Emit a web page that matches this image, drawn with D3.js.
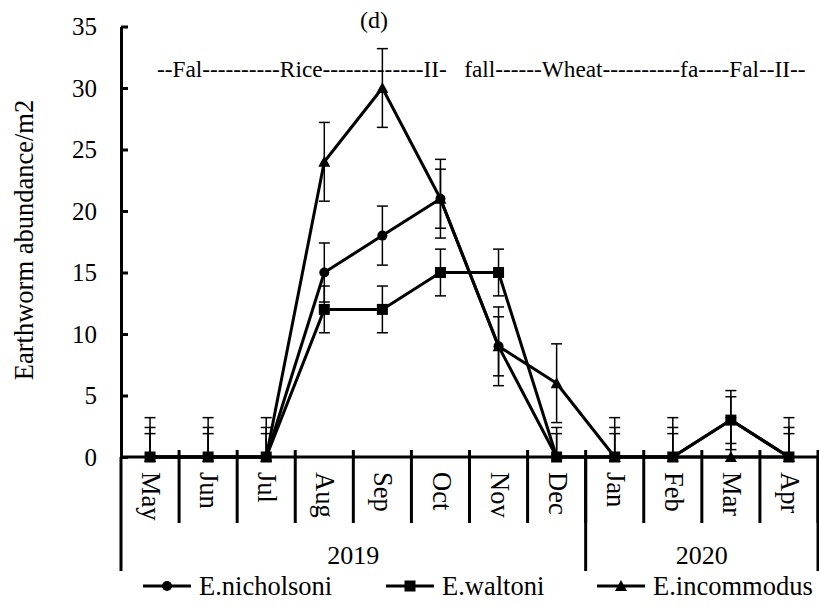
<!DOCTYPE html>
<html>
<head>
<meta charset="utf-8">
<script src="https://cdn.jsdelivr.net/npm/d3@7"></script>
<style>
  body { margin: 0; background: #fff; }
  svg text { font-family: 'Liberation Serif', 'Times New Roman', 'DejaVu Serif', serif; }
</style>
</head>
<body>
<div id="chart"></div>
<script>
// Data
const months = ["May", "Jun", "Jul", "Aug", "Sep", "Oct", "Nov", "Dec", "Jan", "Feb", "Mar", "Apr"];
const yearLabels = ["2019", "2020"];
const yearMonthCounts = [8, 4];
const yTicks = [0, 5, 10, 15, 20, 25, 30, 35];

const nicholsoni = [0, 0, 0, 15, 18, 21, 9, 0, 0, 0, 3, 0];
const waltoni = [0, 0, 0, 12, 12, 15, 15, 0, 0, 0, 3, 0];
const incommodus = [0, 0, 0, 24, 30, 21, 9, 6, 0, 0, 0, 0];

const nicholsoniErr = [2.4, 2.4, 2.4, 2.4, 2.4, 2.4, 2.4, 2.4, 2.4, 2.4, 2.4, 2.4];
const waltoniErr = [1.9, 1.9, 1.9, 1.9, 1.9, 1.9, 1.9, 1.9, 1.9, 1.9, 1.9, 1.9];
const incommodusErr = [3.2, 3.2, 3.2, 3.2, 3.2, 3.2, 3.2, 3.2, 3.2, 3.2, 3.2, 3.2];

const seasonText = "--Fal----------Rice-------------II-   fall------Wheat----------fa----Fal--II--";

const series = [
    { name: "E.nicholsoni", values: nicholsoni, errs: nicholsoniErr, marker: "circle" },
    { name: "E.waltoni", values: waltoni, errs: waltoniErr, marker: "square" },
    { name: "E.incommodus", values: incommodus, errs: incommodusErr, marker: "triangle" }
];

const W = 819, H = 612;
const FONT = "Liberation Serif, Times New Roman, DejaVu Serif, serif";

const svg = d3.select("#chart").append("svg")
    .attr("width", W)
    .attr("height", H)
    .attr("font-family", FONT);

// Scales
const x = d3.scaleBand().domain(months).range([121, 818]).padding(0);
const y = d3.scaleLinear().domain([0, 35]).range([457, 26.5]);
const cx = m => x(m) + x.bandwidth() / 2;

// clip for error bars that go below zero
svg.append("clipPath").attr("id", "plotClip")
    .append("rect")
    .attr("x", 100).attr("y", 0)
    .attr("width", W - 100).attr("height", y(0));

// Y axis
const yAxis = svg.append("g")
    .attr("transform", `translate(${x.range()[0]},0)`)
    .call(d3.axisLeft(y).tickValues(yTicks).tickSize(-7).tickSizeOuter(0).tickPadding(24));
yAxis.attr("font-family", FONT).attr("font-size", 25);
yAxis.select(".domain").attr("stroke", "#000").attr("stroke-width", 3);
yAxis.selectAll(".tick line").attr("stroke", "#000").attr("stroke-width", 3);
yAxis.selectAll(".tick text")
    .attr("font-family", FONT)
    .attr("font-size", 25)
    .attr("fill", "#000");

svg.append("text")
    .attr("transform", `translate(33,240) rotate(-90)`)
    .attr("text-anchor", "middle")
    .attr("font-size", 26.5)
    .text("Earthworm abundance/m2");

// X axis (multi-level category axis)
const xAxis = svg.append("g");
xAxis.append("line")
    .attr("x1", x.range()[0]).attr("x2", x.range()[1])
    .attr("y1", y(0)).attr("y2", y(0))
    .attr("stroke", "#000").attr("stroke-width", 3);

const boundaries = months.map(m => x(m)).concat([x.range()[1]]);
xAxis.selectAll(".mtick")
    .data(boundaries.slice(1))
    .enter().append("line")
    .attr("x1", d => d).attr("x2", d => d)
    .attr("y1", y(0) - 7).attr("y2", 523)
    .attr("stroke", "#000").attr("stroke-width", 3);

// year separators
let idx = 0;
const yearEdges = [0];
yearMonthCounts.forEach(c => { idx += c; yearEdges.push(idx); });
const edgeX = i => i < months.length ? x(months[i]) : x.range()[1];
xAxis.selectAll(".ytick")
    .data(yearEdges)
    .enter().append("line")
    .attr("x1", edgeX).attr("x2", edgeX)
    .attr("y1", y(0)).attr("y2", 571)
    .attr("stroke", "#000").attr("stroke-width", 3);

xAxis.selectAll(".mlabel")
    .data(months)
    .enter().append("text")
    .attr("transform", d => `translate(${cx(d)},472) rotate(90)`)
    .attr("text-anchor", "start")
    .attr("dy", "0.3em")
    .attr("font-size", 26.5)
    .text(d => d);

xAxis.selectAll(".ylabel")
    .data(yearLabels)
    .enter().append("text")
    .attr("x", (d, i) => (edgeX(yearEdges[i]) + edgeX(yearEdges[i + 1])) / 2)
    .attr("y", 564)
    .attr("text-anchor", "middle")
    .attr("font-size", 26)
    .text(d => d);

// Annotations
svg.append("text")
    .attr("x", 374).attr("y", 28)
    .attr("text-anchor", "middle")
    .attr("font-size", 24)
    .text("(d)");

svg.append("text")
    .attr("x", 157).attr("y", 77)
    .attr("font-size", 23.3)
    .style("white-space", "pre")
    .text(seasonText);

// Error bars
const plot = svg.append("g");
const errG = plot.append("g").attr("clip-path", "url(#plotClip)");
series.forEach(s => {
    const pts = months.map((m, i) => ({ m, v: s.values[i], e: s.errs[i] }));
    const g = errG.append("g");
    g.selectAll(".ev").data(pts).enter().append("line")
        .attr("x1", d => cx(d.m)).attr("x2", d => cx(d.m))
        .attr("y1", d => y(d.v + d.e)).attr("y2", d => y(d.v - d.e))
        .attr("stroke", "#000").attr("stroke-width", 1.5);
    g.selectAll(".ct").data(pts).enter().append("line")
        .attr("x1", d => cx(d.m) - 5.5).attr("x2", d => cx(d.m) + 5.5)
        .attr("y1", d => y(d.v + d.e)).attr("y2", d => y(d.v + d.e))
        .attr("stroke", "#000").attr("stroke-width", 1.5);
    g.selectAll(".cb").data(pts).enter().append("line")
        .attr("x1", d => cx(d.m) - 5.5).attr("x2", d => cx(d.m) + 5.5)
        .attr("y1", d => y(d.v - d.e)).attr("y2", d => y(d.v - d.e))
        .attr("stroke", "#000").attr("stroke-width", 1.5);
});

// Markers
function drawMarker(g, type, px, py) {
    if (type === "circle") {
        g.append("circle").attr("cx", px).attr("cy", py).attr("r", 5).attr("fill", "#000");
    } else if (type === "square") {
        g.append("rect").attr("x", px - 5.5).attr("y", py - 5.5).attr("width", 11).attr("height", 11).attr("fill", "#000");
    } else {
        g.append("path")
            .attr("d", `M${px},${py - 6} L${px + 6},${py + 5} L${px - 6},${py + 5} Z`)
            .attr("fill", "#000");
    }
}

const line = d3.line().x((d, i) => cx(months[i])).y(d => y(d));
series.forEach(s => {
    const g = plot.append("g");
    g.append("path")
        .datum(s.values)
        .attr("d", line)
        .attr("fill", "none")
        .attr("stroke", "#000")
        .attr("stroke-width", 3)
        .attr("stroke-linejoin", "round");
    s.values.forEach((v, i) => drawMarker(g, s.marker, cx(months[i]), y(v)));
});

// Legend
const legendX = [143, 386, 597];
const legendY = 586;
const legend = svg.append("g");
series.forEach((s, i) => {
    const g = legend.append("g");
    g.append("line")
        .attr("x1", legendX[i]).attr("x2", legendX[i] + 48)
        .attr("y1", legendY).attr("y2", legendY)
        .attr("stroke", "#000").attr("stroke-width", 3);
    drawMarker(g, s.marker, legendX[i] + 24, legendY);
    g.append("text")
        .attr("x", legendX[i] + 56)
        .attr("y", legendY + 9)
        .attr("font-size", 26.5)
        .text(s.name);
});
</script>
</body>
</html>
